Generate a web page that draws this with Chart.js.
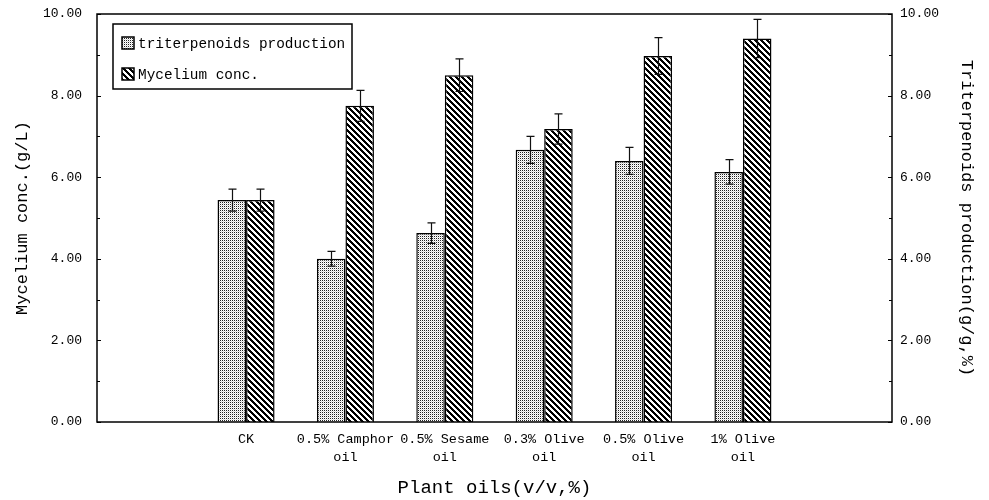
<!DOCTYPE html>
<html>
<head>
<meta charset="utf-8">
<script src="https://cdn.jsdelivr.net/npm/chart.js@4.4.1/dist/chart.umd.min.js"></script>
<style>
html,body{margin:0;padding:0;background:#fff;}
canvas{display:block;}
</style>
</head>
<body>
<canvas id="c" width="989" height="500"></canvas>
<script>
// ---- data ----
const categories = ['', 'CK', ['0.5% Camphor', 'oil'], ['0.5% Sesame', 'oil'], ['0.3% Olive', 'oil'], ['0.5% Olive', 'oil'], ['1% Olive', 'oil'], ''];
const triterpenoids = [null, 5.44, 4.00, 4.63, 6.67, 6.40, 6.13, null];
const triterpenoidsErr = [null, 0.27, 0.18, 0.25, 0.33, 0.33, 0.30, null];
const mycelium = [null, 5.44, 7.75, 8.50, 7.18, 8.97, 9.40, null];
const myceliumErr = [null, 0.27, 0.38, 0.40, 0.37, 0.45, 0.47, null];
const yTickMin = 0, yTickMax = 10, yTickStep = 1;

const FONT = "'Liberation Mono', 'DejaVu Sans Mono', monospace";

function makeDotPattern() {
  const c = document.createElement('canvas');
  c.width = 2; c.height = 2;
  const x = c.getContext('2d');
  x.fillStyle = '#fff'; x.fillRect(0, 0, 2, 2);
  x.fillStyle = '#222';
  x.fillRect(0, 0, 1, 1);
  x.fillStyle = '#d8d8d8';
  x.fillRect(1, 1, 1, 1);
  return x.createPattern(c, 'repeat');
}
function makeHatchPattern() {
  const n = 6;
  const c = document.createElement('canvas');
  c.width = n; c.height = n;
  const x = c.getContext('2d');
  x.fillStyle = '#fff'; x.fillRect(0, 0, n, n);
  x.fillStyle = '#000';
  for (let y = 0; y < n; y++) {
    for (let k = 0; k < 3; k++) {
      x.fillRect((y + k) % n, y, 1, 1);
    }
  }
  return x.createPattern(c, 'repeat');
}
const dotPat = makeDotPattern();
const hatchPat = makeHatchPattern();

const errors = [triterpenoidsErr, myceliumErr];

const extrasPlugin = {
  id: 'extras',
  afterDatasetsDraw(chart) {
    const ctx = chart.ctx;
    chart.data.datasets.forEach((ds, di) => {
      const meta = chart.getDatasetMeta(di);
      const scale = chart.scales[ds.yAxisID];
      meta.data.forEach((bar, i) => {
        const v = ds.data[i], e = errors[di][i];
        if (v == null || e == null) return;
        const yt = scale.getPixelForValue(v + e);
        const yb = scale.getPixelForValue(v - e);
        const x = Math.round(bar.x) + 0.5;
        ctx.save();
        ctx.strokeStyle = '#111';
        ctx.lineWidth = 1.2;
        ctx.beginPath();
        ctx.moveTo(x, yt); ctx.lineTo(x, yb);
        ctx.moveTo(x - 4, yt); ctx.lineTo(x + 4, yt);
        ctx.moveTo(x - 4, yb); ctx.lineTo(x + 4, yb);
        ctx.stroke();
        ctx.restore();
      });
    });
  },
  afterDraw(chart) {
    const ctx = chart.ctx;
    const a = chart.chartArea;
    ctx.save();
    ctx.strokeStyle = '#000';
    ctx.lineWidth = 1.5;
    ctx.strokeRect(a.left, a.top, a.right - a.left, a.bottom - a.top);
    ctx.lineWidth = 1;
    ['y', 'y1'].forEach(id => {
      const s = chart.scales[id];
      s.ticks.forEach(t => {
        const y = Math.round(s.getPixelForValue(t.value)) + 0.5;
        const len = (t.value % 2 === 0) ? 4 : 3;
        ctx.beginPath();
        if (id === 'y') { ctx.moveTo(a.left, y); ctx.lineTo(a.left + len, y); }
        else { ctx.moveTo(a.right, y); ctx.lineTo(a.right - len, y); }
        ctx.stroke();
      });
    });
    // legend box
    const lx = 113, ly = 24, lw = 239, lh = 65;
    ctx.fillStyle = '#fff';
    ctx.fillRect(lx, ly, lw, lh);
    ctx.lineWidth = 1.5;
    ctx.strokeRect(lx, ly, lw, lh);
    const rows = [43, 74];
    chart.data.datasets.forEach((ds, i) => {
      const sy = rows[i];
      ctx.fillStyle = ds.backgroundColor;
      ctx.fillRect(122, sy - 6, 12, 12);
      ctx.lineWidth = 1.5;
      ctx.strokeStyle = '#000';
      ctx.strokeRect(122, sy - 6, 12, 12);
      ctx.fillStyle = '#000';
      ctx.font = '14.4px ' + FONT;
      ctx.textBaseline = 'middle';
      ctx.textAlign = 'left';
      ctx.fillText(ds.label, 138, sy + 1);
    });
    ctx.restore();
  }
};

new Chart(document.getElementById('c'), {
  type: 'bar',
  data: {
    labels: categories,
    datasets: [
      {
        label: 'triterpenoids production',
        data: triterpenoids,
        yAxisID: 'y1',
        backgroundColor: dotPat,
        borderColor: '#000',
        borderWidth: 1.5,
        categoryPercentage: 0.574,
        barPercentage: 1.0
      },
      {
        label: 'Mycelium conc.',
        data: mycelium,
        yAxisID: 'y',
        backgroundColor: hatchPat,
        borderColor: '#000',
        borderWidth: 1.5,
        categoryPercentage: 0.574,
        barPercentage: 1.0
      }
    ]
  },
  options: {
    responsive: false,
    devicePixelRatio: 1,
    animation: false,
    layout: { padding: { top: 14, left: 0, right: 0, bottom: 0 } },
    plugins: {
      legend: { display: false },
      tooltip: { enabled: false }
    },
    scales: {
      x: {
        grid: { display: false, drawTicks: false },
        border: { display: false },
        ticks: {
          color: '#000',
          font: { family: FONT, size: 13.5, lineHeight: 1.33 },
          padding: 8,
          maxRotation: 0,
          autoSkip: false
        },
        title: {
          display: true,
          text: 'Plant oils(v/v,%)',
          color: '#000',
          font: { family: FONT, size: 19 },
          padding: { top: 0, bottom: 1 }
        },
        afterFit(s) { s.height = 78; }
      },
      y: {
        position: 'left',
        min: yTickMin, max: yTickMax,
        grid: { display: false, drawTicks: false },
        border: { display: false },
        ticks: {
          stepSize: yTickStep,
          color: '#000',
          font: { family: FONT, size: 13 },
          padding: 15,
          callback: v => (v % 2 === 0 ? v.toFixed(2) : '')
        },
        title: {
          display: true,
          text: 'Mycelium conc.(g/L)',
          color: '#000',
          font: { family: FONT, size: 17 },
          padding: { top: 12, bottom: 0 }
        },
        afterFit(s) { s.width = 97; s.paddingTop = 8; s.paddingBottom = 8; }
      },
      y1: {
        position: 'right',
        min: yTickMin, max: yTickMax,
        grid: { display: false, drawTicks: false },
        border: { display: false },
        ticks: {
          stepSize: yTickStep,
          color: '#000',
          font: { family: FONT, size: 13 },
          padding: 8,
          callback: v => (v % 2 === 0 ? v.toFixed(2) : '')
        },
        title: {
          display: true,
          text: 'Triterpenoids production(g/g,%)',
          color: '#000',
          font: { family: FONT, size: 17 },
          padding: { top: 12, bottom: 0 }
        },
        afterFit(s) { s.width = 97; s.paddingTop = 8; s.paddingBottom = 8; }
      }
    }
  },
  plugins: [extrasPlugin]
});
</script>
</body>
</html>
